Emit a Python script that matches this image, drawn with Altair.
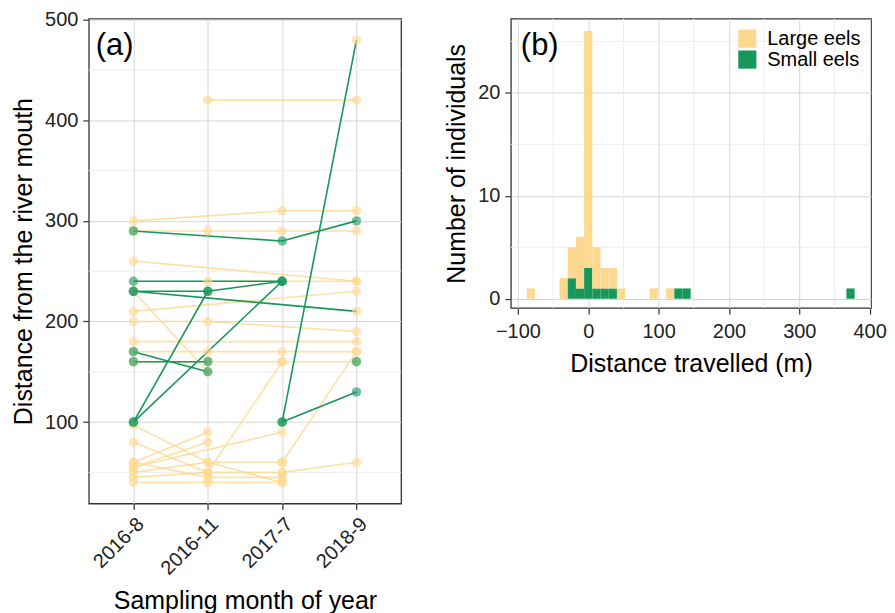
import altair as alt
import pandas as pd

months = ["2016-8", "2016-11", "2017-7", "2018-9"]

# Panel (a): recaptured individuals (track id, month, distance, size class of the point)
obs_track = ["s1", "s1", "s1", "s2", "s2", "s3", "s3", "s4", "s4", "s4", "s5", "s5",
             "s6", "s6", "s7", "s7", "s8", "s8", "s9", "s9", "s10", "s10", "s11",
             "l1", "l1", "l1", "l2", "l2", "l2", "l2", "l3", "l3", "l4", "l4", "l5", "l5",
             "l6", "l6", "l7", "l7", "l7", "l8", "l8", "l9", "l9", "l9", "l9",
             "l10", "l10", "l10", "l10", "l11", "l11", "l12", "l12", "l12", "l13", "l13",
             "l14", "l14", "l15", "l15", "l15", "l16", "l16", "l16", "l17", "l17",
             "l18", "l18", "l19", "l19", "l20", "l20", "l20", "l21", "l21", "l21",
             "l22", "l22", "l22"]
obs_month = ["2016-8", "2017-7", "2018-9", "2017-7", "2018-9", "2017-7", "2018-9",
             "2016-8", "2016-11", "2017-7", "2016-8", "2017-7",
             "2016-8", "2017-7", "2016-8", "2016-11", "2016-8", "2018-9", "2016-8", "2016-11",
             "2016-8", "2016-11", "2018-9",
             "2016-8", "2017-7", "2018-9", "2016-8", "2016-11", "2017-7", "2018-9",
             "2016-11", "2018-9", "2016-8", "2018-9", "2016-8", "2018-9",
             "2016-11", "2018-9", "2016-8", "2016-11", "2018-9", "2016-8", "2018-9",
             "2016-8", "2016-11", "2017-7", "2018-9",
             "2016-8", "2016-11", "2017-7", "2018-9", "2016-8", "2016-11",
             "2016-8", "2016-11", "2017-7", "2017-7", "2018-9",
             "2017-7", "2018-9", "2016-8", "2016-11", "2017-7", "2016-8", "2016-11", "2017-7",
             "2016-8", "2016-11", "2016-8", "2016-11", "2016-8", "2017-7",
             "2016-8", "2016-11", "2017-7", "2016-8", "2016-11", "2017-7",
             "2016-8", "2016-11", "2017-7"]
obs_dist = [290, 280, 300, 100, 480, 100, 130, 100, 230, 240, 100, 240,
            240, 240, 230, 230, 230, 210, 170, 150, 160, 160, 160,
            300, 310, 310, 290, 290, 290, 290, 420, 420, 260, 240, 210, 230,
            240, 240, 200, 200, 190, 180, 180, 170, 170, 170, 170,
            160, 160, 160, 160, 230, 150, 45, 50, 160, 60, 170,
            50, 60, 97, 60, 40, 80, 50, 50, 60, 90, 55, 80, 55, 90,
            50, 60, 60, 40, 40, 40, 60, 45, 45]
obs_size = ["Small eels"] * 17 + ["Large eels"] + ["Small eels"] * 5 + ["Large eels"] * 58
obs_size[4] = "Large eels"

track_ids = ["s1", "s2", "s3", "s4", "s5", "s6", "s7", "s8", "s9", "s10", "s11",
             "l1", "l2", "l3", "l4", "l5", "l6", "l7", "l8", "l9", "l10", "l11",
             "l12", "l13", "l14", "l15", "l16", "l17", "l18", "l19", "l20", "l21", "l22"]
track_class = ["Small eels"] * 11 + ["Large eels"] * 22

# Panel (b): histogram of distance travelled (bin centres, counts)
bin_width = 11.65
hist_center = [-81.6, -35.0, -23.3, -11.65, 0.0, 11.65, 23.3, 35.0, 46.6,
               93.2, 116.5, 128.2, 139.8, 372.8]
large_count = [1, 2, 3, 5, 23, 4, 2, 2, 1, 1, 1, 0, 0, 0]
small_count = [0, 0, 2, 1, 3, 1, 1, 1, 0, 0, 0, 1, 1, 1]

y_minor_a = [50, 150, 250, 350, 450]
x_minor_b = [-50, 50, 150, 250, 350]
y_minor_b = [5, 15, 25]

YEL = "#FDD88E"
GRN = "#17975A"
FONT = "Liberation Sans"
classes = ["Large eels", "Small eels"]

df_obs = pd.DataFrame({"track": obs_track, "month": obs_month,
                       "dist": obs_dist, "size": obs_size})
df_obs["line_class"] = df_obs["track"].map(dict(zip(track_ids, track_class)))
df_obs["mi"] = df_obs["month"].map({m: i for i, m in enumerate(months)})
df_obs["z"] = df_obs["size"].map({"Large eels": 0, "Small eels": 1})

rows = []
for c, l, s in zip(hist_center, large_count, small_count):
    rows.append({"center": c, "size": "Small eels", "count": s, "ord": 0})
    rows.append({"center": c, "size": "Large eels", "count": l, "ord": 1})
df_hist = pd.DataFrame(rows)

color_scale = alt.Scale(domain=classes, range=[YEL, GRN])

x_a = alt.X("month:O", sort=months, scale=alt.Scale(padding=0.6),
            axis=alt.Axis(title="Sampling month of year", labelAngle=-45, grid=True,
                          labelAlign="right", labelBaseline="top", labelPadding=4,
                          titlePadding=10))
y_scale_a = alt.Scale(domain=[19, 501], nice=False, zero=False)
y_axis_a = alt.Axis(title="Distance from the river mouth", values=[100, 200, 300, 400, 500])
y_a = alt.Y("dist:Q", scale=y_scale_a, axis=y_axis_a)

minor_a = alt.Chart(pd.DataFrame({"dist": y_minor_a})).mark_rule(
    color="#EDEDED", strokeWidth=1).encode(y=y_a)

base_a = alt.Chart(df_obs)
lines_l = base_a.transform_filter(alt.datum.line_class == "Large eels").mark_line(
    strokeWidth=1.6, opacity=0.8, color=YEL).encode(
    x=x_a, y=y_a, detail="track:N", order="mi:Q")
lines_s = base_a.transform_filter(alt.datum.line_class == "Small eels").mark_line(
    strokeWidth=1.6, color=GRN).encode(
    x=x_a, y=y_a, detail="track:N", order="mi:Q")
pts = base_a.mark_circle(size=90, opacity=0.6).encode(
    x=x_a, y=y_a, order="z:Q",
    color=alt.Color("size:N", scale=color_scale, legend=None))
label_a = alt.Chart(pd.DataFrame({"t": ["(a)"]})).mark_text(
    fontSize=31, font=FONT, align="left", baseline="top", color="black").encode(
    text="t:N", x=alt.value(7), y=alt.value(12))

panel_a = alt.layer(minor_a, lines_l, lines_s, pts, label_a).properties(width=313, height=486)

x_scale_b = alt.Scale(domain=[-110, 402], nice=False, zero=False)
y_scale_b = alt.Scale(domain=[-0.9, 27.2], nice=False, zero=False)
x_b = alt.X("x0:Q", scale=x_scale_b,
            axis=alt.Axis(title="Distance travelled (m)", values=[-100, 0, 100, 200, 300, 400],
                          labelPadding=8, titlePadding=10))
y_b = alt.Y("y0:Q", scale=y_scale_b,
            axis=alt.Axis(title="Number of individuals", values=[0, 10, 20]))

minor_bx = alt.Chart(pd.DataFrame({"x0": x_minor_b})).mark_rule(
    color="#EDEDED", strokeWidth=1).encode(x=x_b)
minor_by = alt.Chart(pd.DataFrame({"y0": y_minor_b})).mark_rule(
    color="#EDEDED", strokeWidth=1).encode(y=y_b)

bars = alt.Chart(df_hist).transform_calculate(
    xa=f"datum.center - {bin_width / 2}", x1=f"datum.center + {bin_width / 2}"
).transform_stack(
    stack="count", groupby=["center"], sort=[alt.SortField("ord")], as_=["ya", "y1"]
).transform_calculate(
    x0="datum.xa", y0="datum.ya"
).mark_bar(strokeWidth=0).encode(
    x=x_b, x2="x1:Q", y=y_b, y2="y1:Q",
    color=alt.Color("size:N", scale=color_scale,
                    legend=alt.Legend(title=None, orient="top-right", symbolType="square",
                                      symbolSize=330, symbolStrokeWidth=0, symbolOpacity=1,
                                      labelFontSize=20, labelFont=FONT, labelColor="black",
                                      rowPadding=1, offset=10, padding=0, labelOffset=10)))
label_b = alt.Chart(pd.DataFrame({"t": ["(b)"]})).mark_text(
    fontSize=31, font=FONT, align="left", baseline="top", color="black").encode(
    text="t:N", x=alt.value(10), y=alt.value(12))

panel_b = alt.layer(minor_bx, minor_by, bars, label_b).properties(width=361, height=290)

chart = alt.hconcat(panel_a, panel_b, spacing=41).resolve_scale(
    color="independent"
).properties(
    padding={"left": 2, "top": 0, "right": 0, "bottom": 0}
).configure_view(
    stroke="#333333", strokeWidth=1.3
).configure_axis(
    labelFont=FONT, titleFont=FONT, labelFontSize=20, titleFontSize=25,
    labelColor="#222222", titleColor="black", titleFontWeight="normal",
    domain=False, tickColor="#333333", tickSize=6, tickWidth=1.2,
    gridColor="#D6D6D6", gridWidth=1, labelPadding=5, titlePadding=8
)

chart.save("out.html", embed_options={"renderer": "svg", "actions": False})
